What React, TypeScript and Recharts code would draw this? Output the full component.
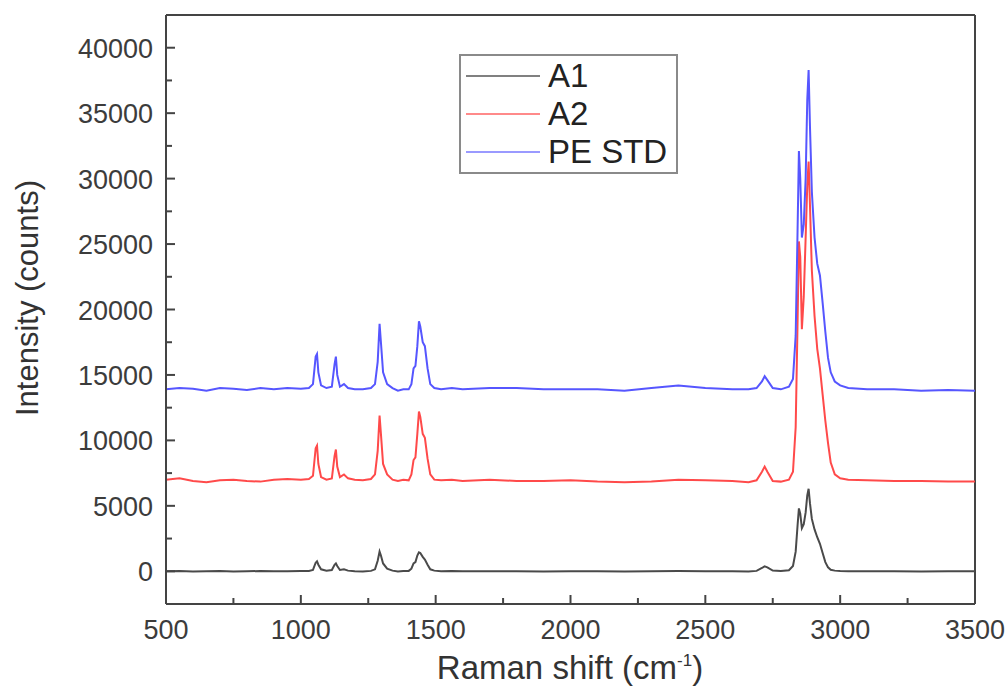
import { Line, LineChart, ReferenceLine, XAxis, YAxis } from "recharts";

// Raman shift (cm-1) sample positions
const ramanShift = [
  500, 550, 600, 650, 700, 750, 800, 850, 900, 950, 1000, 1030, 1045, 1055, 1060, 1065, 1075, 1095,
  1115, 1125, 1130, 1135, 1145, 1160, 1175, 1200, 1230, 1260, 1275, 1285, 1292, 1297, 1305, 1320,
  1340, 1360, 1380, 1400, 1410, 1418, 1425, 1432, 1438, 1443, 1452, 1460, 1470, 1480, 1495, 1520,
  1560, 1600, 1700, 1800, 1900, 2000, 2100, 2200, 2300, 2400, 2500, 2600, 2660, 2690, 2710, 2720,
  2730, 2750, 2780, 2810, 2825, 2835, 2842, 2847, 2852, 2858, 2865, 2872, 2878, 2883, 2888, 2895,
  2905, 2915, 2925, 2935, 2945, 2955, 2965, 2980, 3000, 3030, 3100, 3200, 3300, 3400, 3500,
];

const a1 = [
  0, 20, -20, 0, 30, -10, 0, 20, 0, 10, 20, 30, 100, 650, 760, 500, 150, 50,
  100, 500, 600, 400, 100, 150, 50, 0, -20, 30, 150, 800, 1500, 1200, 600, 200,
  50, -20, 20, 30, 200, 600, 700, 1200, 1450, 1400, 1100, 900, 500, 150, 50, 0,
  20, 0, 10, 0, -10, 0, 10, -10, 0, 20, 0, 0, -10, 30, 250, 380,
  300, 50, 20, 80, 400, 1500, 3500, 4800, 4400, 3300, 3600, 4500, 5800, 6300, 5200, 4000,
  3200, 2600, 2100, 1400, 700, 300, 120, 50, 20, 10, 0, 0, -10, 0, 0,
];

const a2 = [
  7000, 7100, 6900, 6800, 6950, 7000, 6900, 6850, 7000, 7050, 7000, 7050, 7300, 9400, 9600, 8200, 7200, 7000,
  7100, 8800, 9300, 8000, 7200, 7400, 7100, 7000, 6950, 7050, 7400, 9200, 11900, 10500, 8200, 7400,
  7000, 6900, 7000, 6950, 7400, 8500, 8700, 10500, 12200, 11800, 10500, 10200, 8600, 7400, 7000, 6950,
  7000, 6900, 7000, 6900, 6900, 6950, 6850, 6800, 6850, 7000, 6950, 6900, 6800, 6950, 7600, 8000,
  7600, 6900, 6850, 7000, 7600, 11000, 19000, 25200, 24000, 18500, 21000, 25500, 29500, 31300, 28000, 23000,
  19500, 17000, 15500, 13500, 11500, 9800, 8300, 7400, 7100, 7000, 6950, 6900, 6900, 6850, 6850,
];

const peStd = [
  13900, 14000, 13950, 13800, 14000, 13950, 13850, 14000, 13900, 14000, 13950, 14000, 14300, 16400, 16600, 15200, 14200, 14000,
  14100, 15800, 16400, 15000, 14100, 14300, 14000, 13900, 13900, 14000, 14300, 16000, 18900, 17500, 15200, 14300,
  14000, 13800, 13900, 13900, 14300, 15500, 15700, 17200, 19100, 18700, 17500, 17200, 15500, 14300, 14000, 13900,
  14000, 13900, 14000, 14000, 13900, 13900, 13900, 13800, 14000, 14200, 14000, 13900, 13900, 14000, 14500, 14900,
  14600, 14000, 13900, 14100, 14700, 18000, 26000, 32100, 30000, 25500, 26500, 30000, 36000, 38300, 34000, 29000,
  25500, 23500, 22600, 20500, 18300, 16300, 15200, 14500, 14200, 14000, 13900, 13900, 13800, 13850, 13800,
];

const xTicks = [500, 750, 1000, 1250, 1500, 1750, 2000, 2250, 2500, 2750, 3000, 3250, 3500];
const yTicks = [-2500, 0, 2500, 5000, 7500, 10000, 12500, 15000, 17500, 20000, 22500, 25000, 27500, 30000, 32500, 35000, 37500, 40000, 42500];

const seriesNames = ["A1", "A2", "PE STD"];
const lineColors = ["#4a4a4a", "#ff4a4a", "#5656ff"];
const legendColors = ["#808080", "#ff8a8a", "#9a9aff"];

const rows = ramanShift.map((x, i) => ({ x, a1: a1[i], a2: a2[i], pe: peStd[i] }));

const axisColor = "#444";
const font = "Arial, 'Liberation Sans', Helvetica, sans-serif";

function YTick(props: any) {
  const { x, y, payload } = props;
  const v = payload.value;
  if (v === -2500 || v === 42500) return null;
  const major = v % 5000 === 0;
  return (
    <g>
      <line x1={x} y1={y} x2={x + (major ? 9 : 6)} y2={y} stroke={axisColor} strokeWidth={2} />
      {major && (
        <text x={x - 13} y={y + 10} textAnchor="end" fontSize={27} fill="#3c3c3c" fontFamily={font}>
          {v}
        </text>
      )}
    </g>
  );
}

function XTick(props: any) {
  const { x, y, payload } = props;
  const v = payload.value;
  const major = v % 500 === 0;
  return (
    <g>
      {v !== 500 && v !== 3500 && (
        <line x1={x} y1={y} x2={x} y2={y - (major ? 9 : 6)} stroke={axisColor} strokeWidth={2} />
      )}
      {major && (
        <text x={x} y={y + 35} textAnchor="middle" fontSize={27} fill="#3c3c3c" fontFamily={font}>
          {v}
        </text>
      )}
    </g>
  );
}

function LegendBox() {
  return (
    <div
      style={{
        position: "absolute",
        left: 459,
        top: 54,
        width: 215,
        height: 116,
        border: "2px solid #8a8a8a",
        background: "#fff",
        fontFamily: font,
        fontSize: 33,
        color: "#222",
      }}
    >
      {seriesNames.map((name, i) => (
        <div key={name} style={{ display: "flex", alignItems: "center", height: 38, marginTop: i === 0 ? 1 : 0 }}>
          <div style={{ width: 74, height: 2, background: legendColors[i], marginLeft: 5, marginRight: 8 }} />
          <span style={{ lineHeight: "38px" }}>{name}</span>
        </div>
      ))}
    </div>
  );
}

export default function App() {
  return (
    <div style={{ position: "absolute", left: 0, top: 0, width: 1008, height: 695, background: "#fff" }}>
      <LineChart width={1008} height={695} data={rows} margin={{ top: 15, right: 33, left: 0, bottom: 0 }}>
        <XAxis
          dataKey="x"
          type="number"
          domain={[500, 3500]}
          ticks={xTicks}
          interval={0}
          allowDataOverflow
          height={91}
          tickSize={0}
          tickMargin={0}
          tickLine={false}
          stroke={axisColor}
          strokeWidth={2}
          tick={<XTick />}
        />
        <YAxis
          type="number"
          domain={[-2500, 42500]}
          ticks={yTicks}
          interval={0}
          allowDataOverflow
          width={166}
          tickSize={0}
          tickMargin={0}
          tickLine={false}
          stroke={axisColor}
          strokeWidth={2}
          tick={<YTick />}
        />
        <ReferenceLine y={42500} stroke={axisColor} strokeWidth={2} />
        <ReferenceLine x={3500} stroke={axisColor} strokeWidth={2} />
        <Line type="linear" dataKey="a1" name="A1" stroke={lineColors[0]} strokeWidth={2} dot={false} isAnimationActive={false} />
        <Line type="linear" dataKey="a2" name="A2" stroke={lineColors[1]} strokeWidth={2} dot={false} isAnimationActive={false} />
        <Line type="linear" dataKey="pe" name="PE STD" stroke={lineColors[2]} strokeWidth={2} dot={false} isAnimationActive={false} />
      </LineChart>
      <LegendBox />
      <div
        style={{
          position: "absolute",
          left: 28,
          top: 298,
          transform: "translate(-50%, -50%) rotate(-90deg)",
          whiteSpace: "nowrap",
          fontFamily: font,
          fontSize: 31,
          color: "#333",
        }}
      >
        Intensity (counts)
      </div>
      <div
        style={{
          position: "absolute",
          left: 570,
          top: 668,
          transform: "translate(-50%, -50%)",
          whiteSpace: "nowrap",
          fontFamily: font,
          fontSize: 33,
          color: "#333",
        }}
      >
        Raman shift (cm<sup style={{ fontSize: 17, verticalAlign: 13 }}>-1</sup>)
      </div>
    </div>
  );
}
